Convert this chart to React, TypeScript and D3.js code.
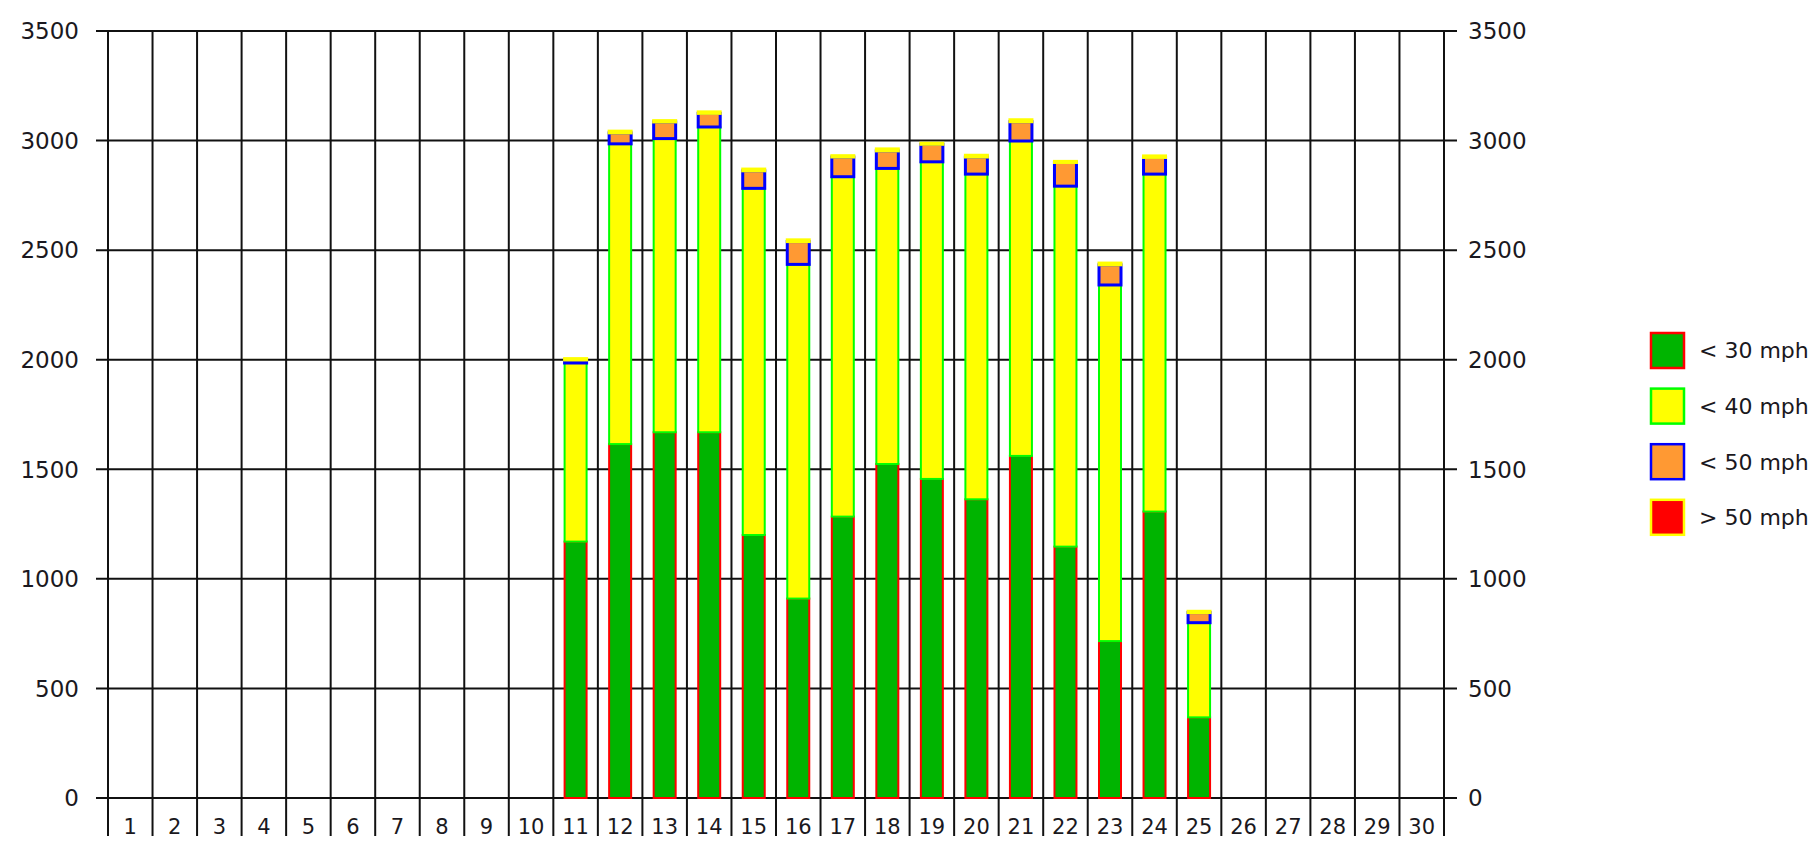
import React from "react";
import * as d3 from "d3";

const days: string[] = Array.from({ length: 30 }, (_, i) => String(i + 1));

// Values per day (days 1-10 and 26-30 have no data)
const under30: number[] = [0, 0, 0, 0, 0, 0, 0, 0, 0, 0, 1170, 1615, 1669, 1669, 1200, 910, 1284, 1524, 1456, 1363, 1561, 1147, 716, 1307, 368, 0, 0, 0, 0, 0];
const under40: number[] = [0, 0, 0, 0, 0, 0, 0, 0, 0, 0, 815, 1370, 1340, 1393, 1582, 1525, 1551, 1349, 1447, 1484, 1437, 1645, 1625, 1540, 432, 0, 0, 0, 0, 0];
const under50: number[] = [0, 0, 0, 0, 0, 0, 0, 0, 0, 0, 14, 50, 76, 62, 80, 104, 90, 80, 80, 78, 88, 108, 92, 76, 46, 0, 0, 0, 0, 0];
const over50: number[] = [0, 0, 0, 0, 0, 0, 0, 0, 0, 0, 6, 8, 6, 7, 8, 8, 6, 9, 5, 8, 9, 5, 8, 7, 6, 0, 0, 0, 0, 0];

const seriesNames: string[] = ["< 30 mph", "< 40 mph", "< 50 mph", "> 50 mph"];
const fills: string[] = ["#00b400", "#ffff00", "#ff9933", "#ff0000"];
const strokes: string[] = ["#ff0000", "#00ff00", "#0000ff", "#ffff00"];
const strokeWidths: number[] = [2, 2, 3, 3];
const yTicks: number[] = [0, 500, 1000, 1500, 2000, 2500, 3000, 3500];

const W = 1816;
const H = 850;
const plotLeft = 108;
const plotRight = 1444;
const plotTop = 31;
const plotBottom = 798;
const textColor = "#1a1820";
const font = "DejaVu Sans, Verdana, sans-serif";

export default function App() {
  const x = d3.scaleBand<string>().domain(days).range([plotLeft, plotRight]).padding(0);
  const y = d3.scaleLinear().domain([0, 3500]).range([plotBottom, plotTop]);

  const rows = days.map((d, i) => ({
    day: d,
    s0: under30[i],
    s1: under40[i],
    s2: under50[i],
    s3: over50[i],
  }));
  const stacked = d3.stack<any>().keys(["s0", "s1", "s2", "s3"])(rows);

  const bw = 22;
  const boundaries = d3.range(0, days.length + 1).map((k) => plotLeft + k * x.bandwidth());

  return (
    <svg
      width={W}
      height={H}
      style={{ position: "absolute", left: 0, top: 0, display: "block", background: "#fff" }}
    >
      {/* horizontal gridlines */}
      {yTicks.map((t) => (
        <line key={"h" + t} x1={96} x2={1457} y1={y(t)} y2={y(t)} stroke="#111" strokeWidth={2} />
      ))}
      {/* vertical gridlines */}
      {boundaries.map((bx, k) => (
        <line key={"v" + k} x1={bx} x2={bx} y1={plotTop} y2={836} stroke="#111" strokeWidth={2} />
      ))}

      {/* bars */}
      {stacked.map((layer, si) => (
        <g key={"s" + si}>
          {layer.map((seg, i) => {
            const v = seg[1] - seg[0];
            if (v <= 0) return null;
            const cx = (x(days[i]) as number) + x.bandwidth() / 2;
            return (
              <rect
                key={i}
                x={cx - bw / 2}
                width={bw}
                y={y(seg[1])}
                height={y(seg[0]) - y(seg[1])}
                fill={fills[si]}
                stroke={strokes[si]}
                strokeWidth={strokeWidths[si]}
              />
            );
          })}
        </g>
      ))}

      {/* left axis labels */}
      {yTicks.map((t) => (
        <text
          key={"yl" + t}
          x={79}
          y={y(t)}
          dy="0.36em"
          textAnchor="end"
          fontFamily={font}
          fontSize={23}
          fill={textColor}
        >
          {t}
        </text>
      ))}
      {/* right axis labels */}
      {yTicks.map((t) => (
        <text
          key={"yr" + t}
          x={1468}
          y={y(t)}
          dy="0.36em"
          textAnchor="start"
          fontFamily={font}
          fontSize={23}
          fill={textColor}
        >
          {t}
        </text>
      ))}
      {/* x labels */}
      {days.map((d) => (
        <text
          key={"xl" + d}
          x={(x(d) as number) + x.bandwidth() / 2}
          y={826}
          dy="0.36em"
          textAnchor="middle"
          fontFamily={font}
          fontSize={21}
          fill={textColor}
        >
          {d}
        </text>
      ))}

      {/* legend */}
      {seriesNames.map((name, i) => {
        const top = 333 + i * 55.6;
        return (
          <g key={"lg" + i}>
            <rect x={1651} y={top} width={33} height={35} fill={fills[i]} stroke={strokes[i]} strokeWidth={2.5} />
            <text
              x={1699}
              y={top + 17.5}
              dy="0.36em"
              fontFamily={font}
              fontSize={22}
              fill={textColor}
            >
              {name}
            </text>
          </g>
        );
      })}
    </svg>
  );
}
